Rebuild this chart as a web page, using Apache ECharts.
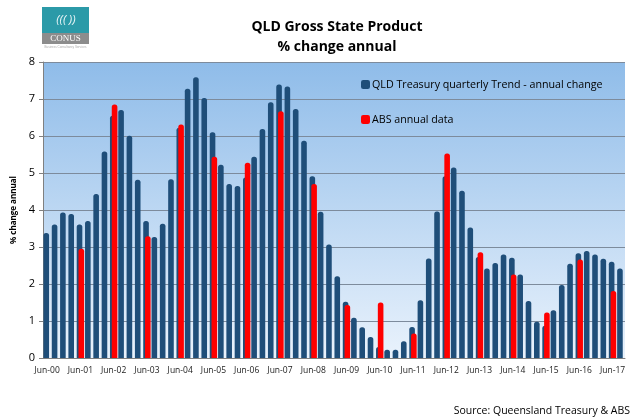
<!DOCTYPE html>
<html><head><meta charset="utf-8">
<script src="https://cdn.jsdelivr.net/npm/echarts@6/dist/echarts.min.js"></script>
<style>html,body{margin:0;padding:0;background:#fff}#c{width:638px;height:418px}</style>
</head><body><div id="c"></div>
<script>
const categories = (function(){
  const m = ['Jun','Sep','Dec','Mar'];
  const out = [];
  for (let i = 0; i < 70; i++) {
    const q = i % 4;
    const yr = 2000 + Math.floor(i / 4) + (q === 3 ? 1 : 0);
    out.push(m[q] + '-' + String(yr % 100).padStart(2, '0'));
  }
  return out;
})();
const treasuryTrend = [3.38,3.61,3.93,3.89,3.61,3.70,4.43,5.58,6.55,6.70,6.01,4.82,3.70,3.27,3.63,4.83,
  6.22,7.28,7.59,7.03,6.10,5.22,4.70,4.65,4.88,5.44,6.19,6.91,7.39,7.34,6.73,5.87,
  4.91,3.95,3.07,2.21,1.52,1.09,0.83,0.57,0.30,0.22,0.22,0.45,0.84,1.56,2.69,3.96,
  4.91,5.15,4.52,3.53,2.73,2.42,2.57,2.80,2.71,2.26,1.54,0.98,0.87,1.29,1.97,2.55,
  2.83,2.89,2.80,2.68,2.60,2.42];
const absAnnualVals = [2.95,6.85,3.29,6.31,5.44,5.28,6.67,4.70,1.43,1.50,0.66,5.53,2.86,2.26,1.23,2.66,1.81];
const absAnnual = categories.map((c, i) => (i >= 4 && i % 4 === 0) ? absAnnualVals[i / 4 - 1] : null);
const yTicks = [0,1,2,3,4,5,6,7,8];

const chart = echarts.init(document.getElementById('c'), null, {renderer: 'canvas'});
const font = "'Open Sans', 'Liberation Sans', sans-serif";
chart.setOption({
  animation: false,
  textStyle: {fontFamily: font},
  title: {
    text: 'QLD Gross State Product\n% change annual',
    left: 332, top: 12, textAlign: 'center',
    textStyle: {fontSize: 14, fontWeight: 'bold', color: '#000', lineHeight: 20, fontFamily: font}
  },
  graphic: [
    {type: 'rect', shape: {x: 42, y: 7, width: 47, height: 26}, style: {fill: '#2b9aa8'}},
    {type: 'text', style: {x: 66, y: 20, text: '((( ))', fill: '#e6f4f6', fontSize: 10, align: 'center', verticalAlign: 'middle', fontStyle: 'italic'}},
    {type: 'rect', shape: {x: 42, y: 33, width: 47, height: 11}, style: {fill: '#8c8c8c'}},
    {type: 'text', style: {x: 65.5, y: 38.5, text: 'CONUS', fill: '#ffffff', fontSize: 9, fontFamily: "'Liberation Serif', serif", align: 'center', verticalAlign: 'middle'}},
    {type: 'text', style: {x: 65.5, y: 47, text: 'Business Consultancy Services', fill: '#aaaaaa', fontSize: 3, align: 'center', verticalAlign: 'middle'}},
    {type: 'text', style: {x: 630, y: 411, text: 'Source: Queensland Treasury & ABS', fill: '#000', fontSize: 10.5, fontFamily: font, align: 'right', verticalAlign: 'middle'}}
  ],
  legend: {
    orient: 'vertical', left: 356, top: 74, itemGap: 24, itemWidth: 9, itemHeight: 9,
    icon: 'roundRect',
    textStyle: {fontSize: 10.7, color: '#000', fontFamily: font, padding: [0, 0, 0, -3]},
    data: ['QLD Treasury quarterly Trend - annual change', 'ABS annual data']
  },
  grid: {
    left: 43, right: 13, top: 62, bottom: 60, show: true, borderWidth: 0,
    backgroundColor: new echarts.graphic.LinearGradient(0, 0, 0, 1, [
      {offset: 0, color: '#8fbce9'}, {offset: 1, color: '#e9f2fc'}
    ])
  },
  xAxis: {
    type: 'category', data: categories,
    axisLine: {lineStyle: {color: '#808080'}},
    axisTick: {interval: 3, alignWithLabel: true, length: 3, lineStyle: {color: '#808080'}},
    axisLabel: {interval: 3, fontSize: 8.5, color: '#222', margin: 8, fontFamily: font}
  },
  yAxis: {
    type: 'value', min: 0, max: 8, interval: 1,
    name: '% change annual', nameLocation: 'middle', nameGap: 23, nameRotate: 90,
    nameTextStyle: {fontSize: 8, fontWeight: 'bold', color: '#000', fontFamily: font},
    axisLine: {show: true, lineStyle: {color: '#808080'}},
    axisTick: {show: true, length: 4, lineStyle: {color: '#808080'}},
    axisLabel: {fontSize: 11, color: '#000', margin: 8, fontFamily: font,
      formatter: v => yTicks.includes(v) ? String(v) : ''},
    splitLine: {lineStyle: {color: '#7d8b9c', width: 1}}
  },
  series: [
    {name: 'QLD Treasury quarterly Trend - annual change', type: 'bar', data: treasuryTrend,
     barWidth: 5.6, barGap: '-68%', itemStyle: {color: '#1f4e79', borderRadius: [2.5, 2.5, 0, 0]}},
    {name: 'ABS annual data', type: 'bar', data: absAnnual,
     barWidth: 5.6, itemStyle: {color: '#ff0000', borderRadius: [2.5, 2.5, 0, 0]}}
  ]
});
</script></body></html>
